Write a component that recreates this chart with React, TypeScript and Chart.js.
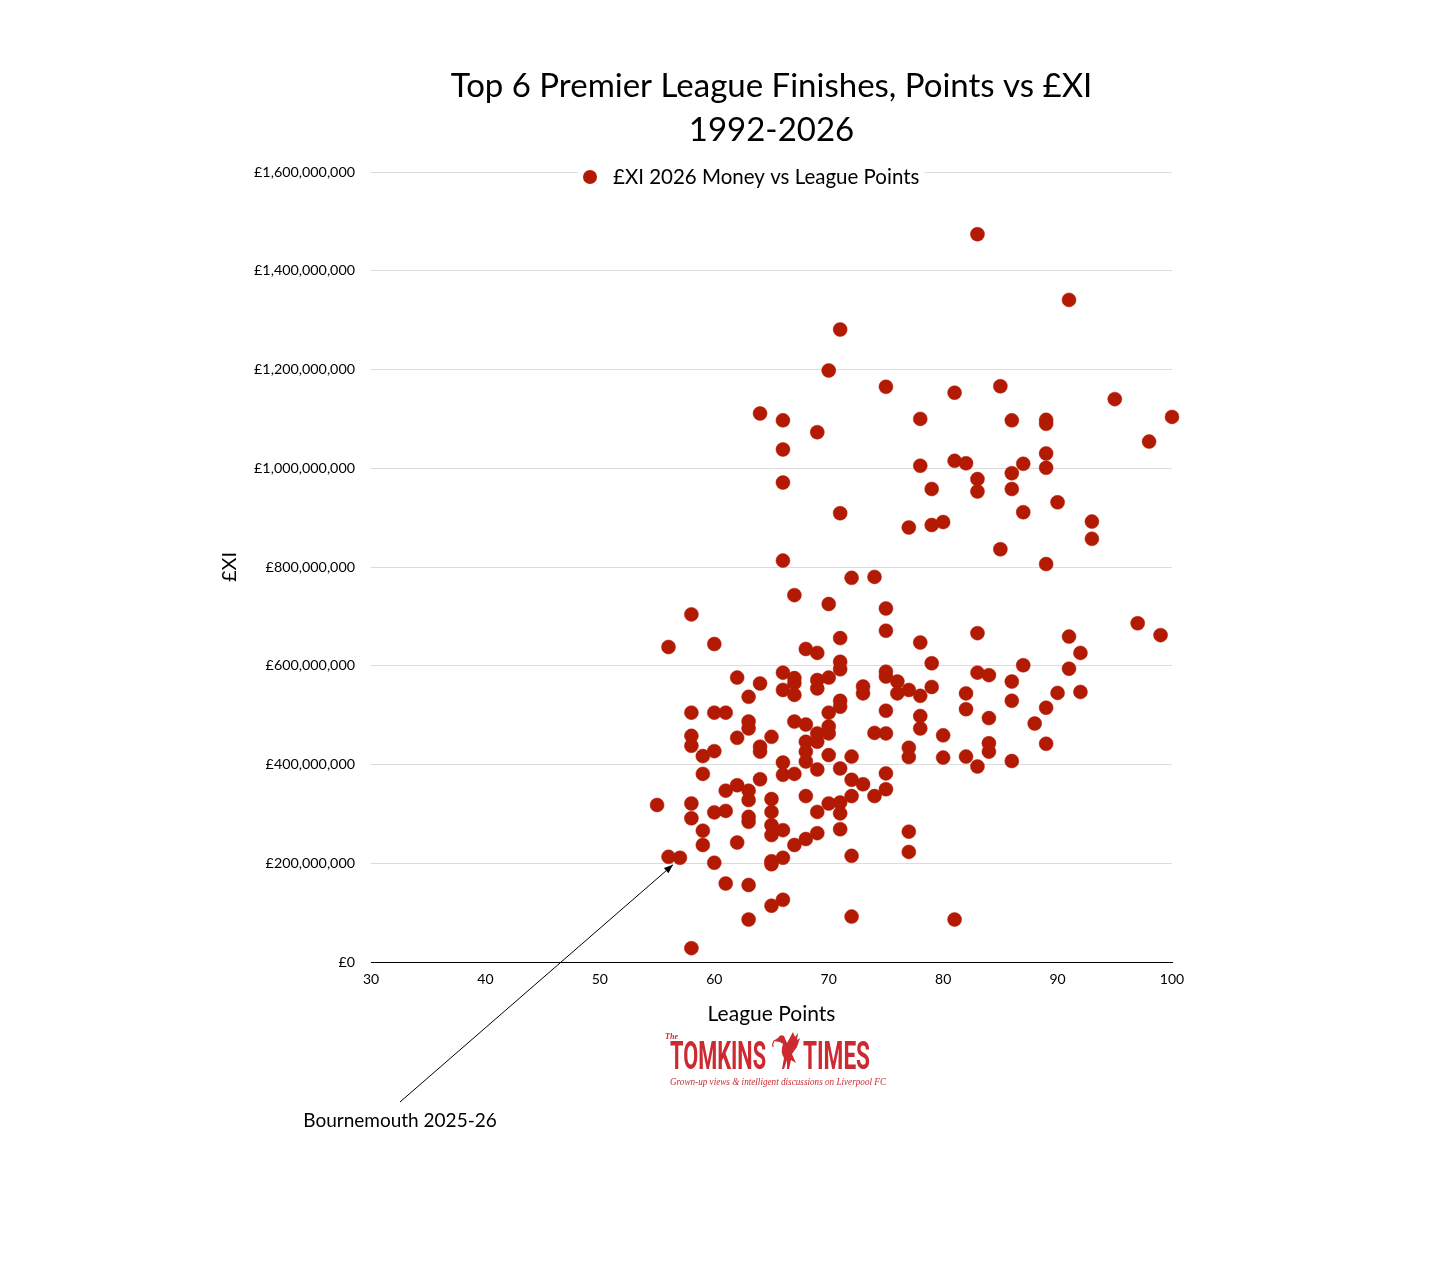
import { useEffect, useRef } from "react"
import { Chart, registerables } from "chart.js"

Chart.register(...registerables)

const FONT = "Lato, 'Noto Sans', sans-serif"
const DOT_RED = "#b31a04"
const LOGO_RED = "#cc2a30"

const TITLE_LINES = ["Top 6 Premier League Finishes, Points vs £XI", "1992-2026"]
const SERIES_LABEL = "£XI 2026 Money vs League Points"
const X_TITLE = "League Points"
const Y_TITLE = "£XI"
const X_TICKS = [30, 40, 50, 60, 70, 80, 90, 100]
const Y_TICKS_M = [0, 200, 400, 600, 800, 1000, 1200, 1400, 1600]

// league points, one entry per top-6 season
const POINTS = [
  83, 91, 71, 70, 75, 85, 81, 95, 64, 66, 69, 78, 86, 89, 89, 100, 98, 66, 89, 81,
  82, 78, 87, 89, 86, 83, 83, 66, 79, 86, 90, 71, 87, 77, 79, 80, 93, 93, 85, 66, 89,
  72, 74, 67, 70, 75, 58, 75, 56, 60, 71, 68, 69, 78, 83, 91, 97, 99, 92,
  71, 71, 75, 75, 62, 64, 66, 67, 67, 69, 69, 70, 76, 76, 77, 73, 73, 66, 67, 63,
  79, 87, 91, 83, 84, 86, 78, 79, 82, 90, 92,
  71, 71, 75, 58, 60, 61, 70, 86, 82, 89, 78, 78, 84, 88,
  63, 63, 67, 68, 70, 70, 69, 69, 68, 68, 74, 75, 58, 58, 62, 65, 64, 64, 60, 80,
  89, 84, 84, 77,
  59, 70, 72, 68, 66, 77, 80, 82, 83, 86, 69, 71, 59, 75, 66, 67,
  64, 62, 61, 63, 63, 72, 73, 75, 74, 72, 68, 65, 65, 55, 58, 58, 60, 61, 63, 63,
  69, 70, 71, 71,
  59, 65, 65, 66, 71, 69, 68, 67, 59, 62, 72, 56, 57, 60, 65, 66, 65, 77, 77,
  61, 63, 66, 65, 63, 72, 58, 81,
]

// £XI in 2026 money, £ millions (same order as POINTS)
const XI_MILLIONS = [
  1474, 1341, 1281, 1198, 1165, 1166, 1153, 1140, 1111, 1097, 1073, 1100, 1097, 1098, 1090, 1104, 1054, 1038, 1030, 1015,
  1010, 1005, 1009, 1001, 990, 978, 953, 971, 958, 958, 931, 909, 911, 880, 885, 891, 892, 857, 836, 813, 806,
  778, 780, 743, 725, 716, 704, 671, 638, 644, 656, 634, 626, 647, 666, 659, 686, 662, 626,
  608, 593, 588, 578, 576, 564, 586, 575, 565, 571, 554, 576, 568, 544, 551, 558, 544, 551, 541, 537,
  605, 601, 594, 586, 581, 568, 539, 557, 544, 545, 547,
  529, 517, 509, 505, 505, 505, 505, 529, 512, 515, 498, 473, 494, 483,
  487, 473, 487, 481, 477, 463, 463, 446, 446, 426, 464, 463, 458, 438, 454, 456, 436, 426, 427, 459,
  442, 443, 426, 434,
  417, 419, 416, 406, 404, 415, 414, 416, 396, 407, 390, 392, 381, 382, 379, 381,
  370, 358, 347, 347, 328, 369, 360, 350, 336, 336, 336, 330, 304, 318, 321, 291, 303, 306, 294, 284,
  304, 321, 323, 301,
  266, 277, 257, 267, 269, 261, 249, 237, 237, 242, 215, 213, 211, 201, 204, 211, 198, 264, 223,
  159, 156, 126, 114, 86, 92, 28, 86,
]

const ANNOTATION_LABEL = "Bournemouth 2025-26"
const ANNOTATED_POINTS = 57
const ANNOTATED_XI_M = 211

function condensedText(ctx: CanvasRenderingContext2D, text: string, x: number, y: number, width: number) {
  const w = ctx.measureText(text).width
  ctx.save()
  ctx.translate(x, y)
  ctx.scale(width / w, 1)
  ctx.fillText(text, 0, 0)
  ctx.restore()
}

function drawLiverBird(ctx: CanvasRenderingContext2D, x: number, y: number) {
  ctx.save()
  ctx.translate(x, y)
  ctx.beginPath()
  ctx.moveTo(1, 9)
  ctx.lineTo(6, 6)
  ctx.quadraticCurveTo(8, 2, 12, 4)
  ctx.lineTo(15, 11)
  ctx.lineTo(21, 0)
  ctx.lineTo(23, 5)
  ctx.lineTo(26, 1)
  ctx.lineTo(25, 8)
  ctx.lineTo(28, 6)
  ctx.lineTo(25, 15)
  ctx.lineTo(20, 22)
  ctx.lineTo(24, 31)
  ctx.lineTo(19, 28)
  ctx.lineTo(17, 37)
  ctx.lineTo(15, 37)
  ctx.lineTo(15, 28)
  ctx.lineTo(12, 37)
  ctx.lineTo(10, 37)
  ctx.lineTo(12, 26)
  ctx.quadraticCurveTo(8, 20, 11, 12)
  ctx.lineTo(8, 10)
  ctx.closePath()
  ctx.fill()
  ctx.lineWidth = 1.2
  ctx.strokeStyle = ctx.fillStyle as string
  ctx.beginPath()
  ctx.moveTo(2, 9)
  ctx.quadraticCurveTo(0, 12, 1, 15)
  ctx.stroke()
  ctx.restore()
}

const overlayPlugin = {
  id: "overlay",
  afterDraw(chart: Chart) {
    const { ctx, chartArea, scales } = chart
    const cx = (chartArea.left + chartArea.right) / 2
    ctx.save()

    // title
    ctx.fillStyle = "#000"
    ctx.textAlign = "center"
    ctx.textBaseline = "middle"
    ctx.font = `33px ${FONT}`
    TITLE_LINES.forEach((line, i) => ctx.fillText(line, cx, chartArea.top - 86 + i * 44))

    // legend sitting on the top grid line
    const dataset = chart.data.datasets[0]
    ctx.font = `20.5px ${FONT}`
    const lx = chartArea.left + 219
    const ly = chartArea.top + 5
    const tw = ctx.measureText(dataset.label as string).width
    ctx.fillStyle = "#fff"
    ctx.fillRect(lx - 12, ly - 12, tw + 40, 24)
    ctx.fillStyle = DOT_RED
    ctx.beginPath()
    ctx.arc(lx, ly, 7, 0, Math.PI * 2)
    ctx.fill()
    ctx.fillStyle = "#000"
    ctx.textAlign = "left"
    ctx.fillText(dataset.label as string, lx + 23, ly)

    // annotation arrow
    const px = scales.x.getPixelForValue(ANNOTATED_POINTS)
    const py = scales.y.getPixelForValue(ANNOTATED_XI_M * 1e6)
    const tipX = px - 7
    const tipY = py + 7
    const sx = chartArea.left + 29
    const sy = chartArea.bottom + 140
    ctx.strokeStyle = "#000"
    ctx.lineWidth = 1
    ctx.beginPath()
    ctx.moveTo(sx, sy)
    ctx.lineTo(tipX, tipY)
    ctx.stroke()
    const ang = Math.atan2(tipY - sy, tipX - sx)
    ctx.fillStyle = "#000"
    ctx.beginPath()
    ctx.moveTo(tipX, tipY)
    ctx.lineTo(tipX - 9 * Math.cos(ang) + 3.5 * Math.sin(ang), tipY - 9 * Math.sin(ang) - 3.5 * Math.cos(ang))
    ctx.lineTo(tipX - 9 * Math.cos(ang) - 3.5 * Math.sin(ang), tipY - 9 * Math.sin(ang) + 3.5 * Math.cos(ang))
    ctx.closePath()
    ctx.fill()
    ctx.textAlign = "center"
    ctx.font = `19px ${FONT}`
    ctx.fillText(ANNOTATION_LABEL, sx, sy + 19)

    // Tomkins Times logo
    const lgx = chartArea.left + 294
    const lgy = chartArea.bottom + 68
    ctx.fillStyle = LOGO_RED
    ctx.textAlign = "left"
    ctx.textBaseline = "alphabetic"
    ctx.font = "italic bold 9px 'Liberation Serif', serif"
    condensedText(ctx, "The", lgx, lgy + 9, 13)
    ctx.font = "bold 38px Roboto, sans-serif"
    condensedText(ctx, "TOMKINS", lgx + 5, lgy + 39, 96)
    condensedText(ctx, "TIMES", lgx + 138, lgy + 39, 67)
    drawLiverBird(ctx, lgx + 107, lgy + 2)
    ctx.font = "italic 10.5px 'Liberation Serif', serif"
    condensedText(ctx, "Grown-up views & intelligent discussions on Liverpool FC", lgx + 5, lgy + 55, 216)

    ctx.restore()
  },
}

export default function App() {
  const canvasRef = useRef<HTMLCanvasElement>(null)
  const chartRef = useRef<Chart | null>(null)

  useEffect(() => {
    if (!canvasRef.current) return
    if (chartRef.current) chartRef.current.destroy()

    chartRef.current = new Chart(canvasRef.current, {
      type: "scatter",
      data: {
        datasets: [
          {
            label: SERIES_LABEL,
            data: POINTS.map((p, i) => ({ x: p, y: XI_MILLIONS[i] * 1e6 })),
            backgroundColor: DOT_RED,
            borderColor: DOT_RED,
            borderWidth: 0.5,
            pointRadius: 7,
            clip: false,
          },
        ],
      },
      options: {
        responsive: false,
        animation: false,
        devicePixelRatio: 1,
        layout: { padding: { left: 214, top: 172, right: 284, bottom: 247 } },
        plugins: {
          legend: { display: false },
          title: { display: false },
          tooltip: { enabled: false },
        },
        scales: {
          x: {
            type: "linear",
            min: X_TICKS[0],
            max: X_TICKS[X_TICKS.length - 1],
            afterBuildTicks: (axis: any) => {
              axis.ticks = X_TICKS.map((v) => ({ value: v }))
            },
            afterFit: (axis: any) => {
              axis.height = 68
            },
            grid: { display: false, drawTicks: false },
            border: { display: true, color: "#000", width: 1 },
            ticks: { color: "#000", font: { family: FONT, size: 14 }, padding: 9 },
            title: {
              display: true,
              text: X_TITLE,
              color: "#000",
              font: { family: FONT, size: 21 },
              padding: { top: 0, bottom: 3 },
            },
          },
          y: {
            min: 0,
            max: Y_TICKS_M[Y_TICKS_M.length - 1] * 1e6,
            afterBuildTicks: (axis: any) => {
              axis.ticks = Y_TICKS_M.map((v) => ({ value: v * 1e6 }))
            },
            afterFit: (axis: any) => {
              axis.width = 157
            },
            grid: { color: "#dcdcdc", lineWidth: 1, drawTicks: false },
            border: { display: false },
            ticks: {
              color: "#000",
              font: { family: FONT, size: 14.3 },
              padding: 16,
              callback: (v: any) => "£" + Number(v).toLocaleString("en-GB"),
            },
            title: {
              display: true,
              text: Y_TITLE,
              color: "#000",
              font: { family: FONT, size: 20 },
              padding: { top: 4, bottom: 4 },
            },
          },
        },
      },
      plugins: [overlayPlugin],
    })

    return () => {
      if (chartRef.current) {
        chartRef.current.destroy()
        chartRef.current = null
      }
    }
  }, [])

  return (
    <div style={{ position: "absolute", left: 0, top: 0, width: 1456, height: 1277, background: "#fff" }}>
      <canvas ref={canvasRef} width={1456} height={1277} style={{ display: "block" }}></canvas>
    </div>
  )
}
